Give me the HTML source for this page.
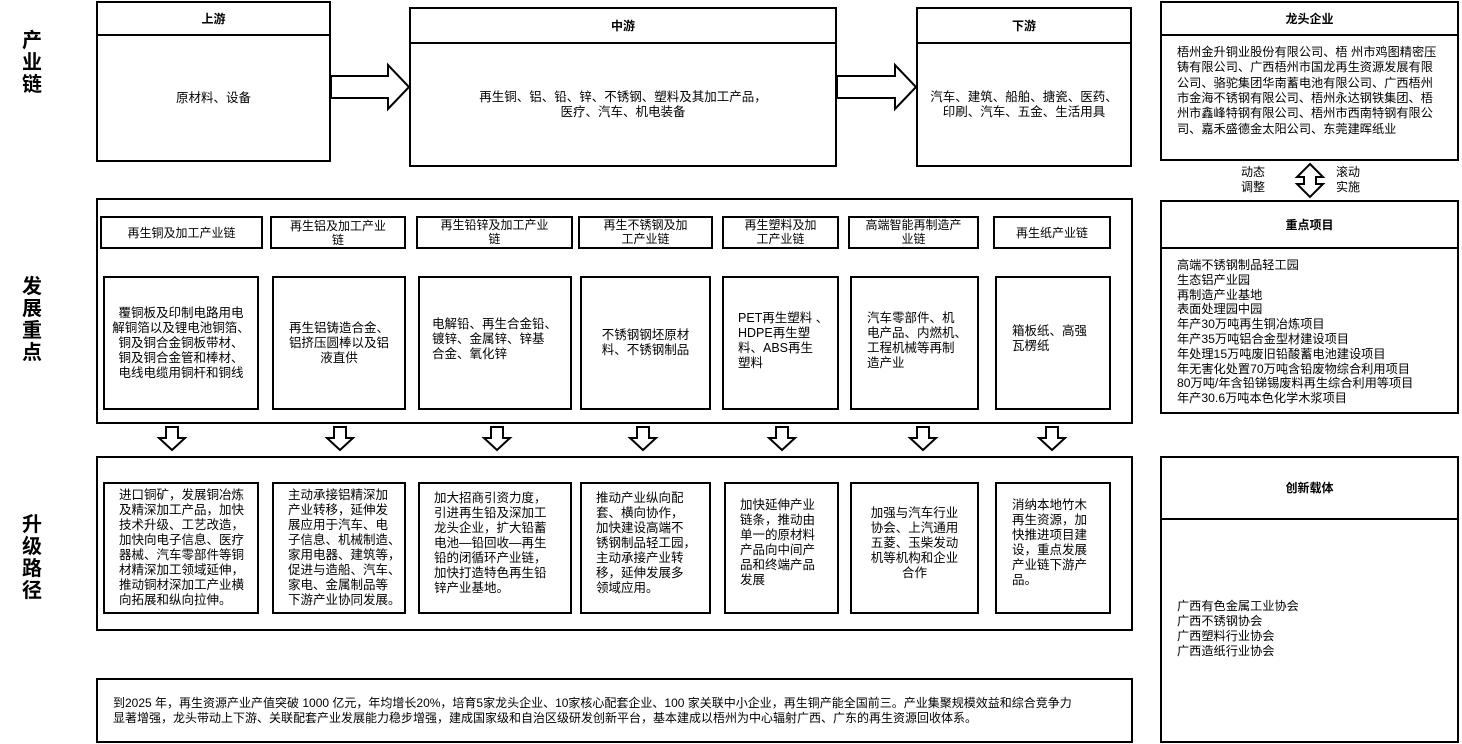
<!DOCTYPE html>
<html><head><meta charset="utf-8">
<style>
*{margin:0;padding:0;box-sizing:border-box}
body{width:1462px;height:744px;background:#fff;position:relative;overflow:hidden;font-family:"Liberation Sans","Noto Sans CJK SC",sans-serif;color:#000}
.b{position:absolute;border:2px solid #000;background:#fff}
.c{position:absolute;display:flex;align-items:center;justify-content:center;text-align:center;white-space:nowrap}
.t{font-size:12.5px;line-height:15px}
.h{font-size:12px;font-weight:bold}
.l{text-align:left}
.lab{position:absolute;left:20px;width:24px;font-size:20px;font-weight:bold;line-height:22px;text-align:center}
.hl{position:absolute;height:2px;background:#000}
</style></head><body>

<div class="lab" style="top:30px">产<br>业<br>链</div>
<div class="lab" style="top:276px">发<br>展<br>重<br>点</div>
<div class="lab" style="top:514px">升<br>级<br>路<br>径</div>

<!-- 产业链 -->
<div class="b" style="left:96px;top:1px;width:235px;height:161px"></div>
<div class="hl" style="left:96px;top:34px;width:235px"></div>
<div class="c h" style="left:96px;top:1px;width:235px;height:34px">上游</div>
<div class="c t" style="left:96px;top:35px;width:235px;height:127px">原材料、设备</div>

<div class="b" style="left:409px;top:7px;width:428px;height:160px"></div>
<div class="hl" style="left:409px;top:42px;width:428px"></div>
<div class="c h" style="left:409px;top:7px;width:428px;height:36px">中游</div>
<div class="c t" style="left:409px;top:43px;width:428px;height:124px">再生铜、铝、铅、锌、不锈钢、塑料及其加工产品，<br>医疗、汽车、机电装备</div>

<div class="b" style="left:916px;top:7px;width:216px;height:160px"></div>
<div class="hl" style="left:916px;top:42px;width:216px"></div>
<div class="c h" style="left:916px;top:7px;width:216px;height:36px">下游</div>
<div class="c t" style="left:916px;top:43px;width:216px;height:124px">汽车、建筑、船舶、搪瓷、医药、<br>印刷、汽车、五金、生活用具</div>

<svg style="position:absolute;left:0;top:0" width="1462" height="744">
<g fill="#fff" stroke="#000" stroke-width="2">
<polygon points="331,76 388,76 388,65 409,87 388,109 388,98 331,98"/>
<polygon points="837,76 895,76 895,65 916,87 895,109 895,98 837,98"/>
<polygon points="1310,164 1323,177 1316,177 1316,184 1323,184 1310,197 1297,184 1304,184 1304,177 1297,177"/>
<g id="da">
<polygon points="166,427 178,427 178,438 185,438 172,450 159,438 166,438"/>
</g>
<polygon points="334,427 346,427 346,438 353,438 340,450 327,438 334,438"/>
<polygon points="491,427 503,427 503,438 510,438 497,450 484,438 491,438"/>
<polygon points="637,427 649,427 649,438 656,438 643,450 630,438 637,438"/>
<polygon points="776,427 788,427 788,438 795,438 782,450 769,438 776,438"/>
<polygon points="917,427 929,427 929,438 936,438 923,450 910,438 917,438"/>
<polygon points="1046,427 1058,427 1058,438 1065,438 1052,450 1039,438 1046,438"/>
</g>
</svg>

<!-- 右侧 -->
<div class="b" style="left:1160px;top:1px;width:299px;height:160px"></div>
<div class="hl" style="left:1160px;top:34px;width:299px"></div>
<div class="c h" style="left:1160px;top:1px;width:299px;height:34px">龙头企业</div>
<div class="c t l" style="left:1177px;top:43px;width:280px;height:96px;justify-content:flex-start;font-size:12.2px;line-height:15.4px">梧州金升铜业股份有限公司、梧 州市鸡图精密压<br>铸有限公司、广西梧州市国龙再生资源发展有限<br>公司、骆驼集团华南蓄电池有限公司、广西梧州<br>市金海不锈钢有限公司、梧州永达钢铁集团、梧<br>州市鑫峰特钢有限公司、梧州市西南特钢有限公<br>司、嘉禾盛德金太阳公司、东莞建晖纸业</div>

<div class="c t" style="left:1240px;top:165px;width:26px;height:30px;font-size:12px;line-height:15px">动态<br>调整</div>
<div class="c t" style="left:1335px;top:165px;width:26px;height:30px;font-size:12px;line-height:15px">滚动<br>实施</div>

<div class="b" style="left:1160px;top:200px;width:299px;height:214px"></div>
<div class="hl" style="left:1160px;top:247px;width:299px"></div>
<div class="c h" style="left:1160px;top:200px;width:299px;height:48px">重点项目</div>
<div class="c t l" style="left:1177px;top:257px;width:280px;height:150px;justify-content:flex-start;font-size:12.2px;line-height:14.8px">高端不锈钢制品轻工园<br>生态铝产业园<br>再制造产业基地<br>表面处理园中园<br>年产30万吨再生铜冶炼项目<br>年产35万吨铝合金型材建设项目<br>年处理15万吨废旧铅酸蓄电池建设项目<br>年无害化处置70万吨含铅废物综合利用项目<br>80万吨/年含铅锑锡废料再生综合利用等项目<br>年产30.6万吨本色化学木浆项目</div>

<div class="b" style="left:1160px;top:456px;width:299px;height:287px"></div>
<div class="hl" style="left:1160px;top:518px;width:299px"></div>
<div class="c h" style="left:1160px;top:456px;width:299px;height:63px">创新载体</div>
<div class="c t l" style="left:1177px;top:599px;width:200px;height:60px;justify-content:flex-start;font-size:12.2px;line-height:14.8px">广西有色金属工业协会<br>广西不锈钢协会<br>广西塑料行业协会<br>广西造纸行业协会</div>

<!-- 发展重点 -->
<div class="b" style="left:96px;top:198px;width:1037px;height:226px"></div>
<div class="b c t" style="left:100px;top:216px;width:163px;height:33px;font-size:12px;line-height:14px">再生铜及加工产业链</div>
<div class="b c t" style="left:270px;top:216px;width:136px;height:33px;font-size:12px;line-height:14px;align-items:flex-start;padding-top:1px">再生铝及加工产业<br>链</div>
<div class="b c t" style="left:416px;top:216px;width:157px;height:33px;font-size:12px;line-height:14px;align-items:flex-start;padding-top:0">再生铅锌及加工产业<br>链</div>
<div class="b c t" style="left:578px;top:216px;width:135px;height:33px;font-size:12px;line-height:14px;align-items:flex-start;padding-top:0">再生不锈钢及加<br>工产业链</div>
<div class="b c t" style="left:722px;top:216px;width:117px;height:33px;font-size:12px;line-height:14px;align-items:flex-start;padding-top:0">再生塑料及加<br>工产业链</div>
<div class="b c t" style="left:848px;top:216px;width:131px;height:33px;font-size:12px;line-height:14px;align-items:flex-start;padding-top:0">高端智能再制造产<br>业链</div>
<div class="b c t" style="left:993px;top:216px;width:118px;height:33px;font-size:12px;line-height:14px">再生纸产业链</div>

<div class="b c t" style="left:103px;top:276px;width:156px;height:134px">覆铜板及印制电路用电<br>解铜箔以及锂电池铜箔、<br>铜及铜合金铜板带材、<br>铜及铜合金管和棒材、<br>电线电缆用铜杆和铜线</div>
<div class="b c t" style="left:272px;top:276px;width:134px;height:134px">再生铝铸造合金、<br>铝挤压圆棒以及铝<br>液直供</div>
<div class="b c t l" style="left:418px;top:276px;width:154px;height:134px;justify-content:flex-start;padding-left:12px;padding-bottom:8px">电解铅、再生合金铅、<br>镀锌、金属锌、锌基<br>合金、氧化锌</div>
<div class="b c t" style="left:580px;top:276px;width:131px;height:134px">不锈钢钢坯原材<br>料、不锈钢制品</div>
<div class="b c t l" style="left:722px;top:276px;width:117px;height:134px;justify-content:flex-start;padding-left:14px;padding-bottom:4px">PET再生塑料 、<br>HDPE再生塑<br>料、ABS再生<br>塑料</div>
<div class="b c t l" style="left:850px;top:276px;width:129px;height:134px;justify-content:flex-start;padding-left:15px;padding-bottom:4px">汽车零部件、机<br>电产品、内燃机、<br>工程机械等再制<br>造产业</div>
<div class="b c t l" style="left:995px;top:276px;width:116px;height:134px;justify-content:flex-start;padding-left:15px;padding-bottom:8px">箱板纸、高强<br>瓦楞纸</div>

<!-- 升级路径 -->
<div class="b" style="left:96px;top:456px;width:1037px;height:175px"></div>
<div class="b c t l" style="left:103px;top:482px;width:156px;height:132px;justify-content:flex-start;padding-left:14px">进口铜矿，发展铜冶炼<br>及精深加工产品，加快<br>技术升级、工艺改造，<br>加快向电子信息、医疗<br>器械、汽车零部件等铜<br>材精深加工领域延伸，<br>推动铜材深加工产业横<br>向拓展和纵向拉伸。</div>
<div class="b c t l" style="left:272px;top:482px;width:134px;height:132px;justify-content:flex-start;padding-left:14px">主动承接铝精深加<br>产业转移，延伸发<br>展应用于汽车、电<br>子信息、机械制造、<br>家用电器、建筑等，<br>促进与造船、汽车、<br>家电、金属制品等<br>下游产业协同发展。</div>
<div class="b c t l" style="left:418px;top:482px;width:154px;height:132px;justify-content:flex-start;padding-left:14px;padding-bottom:10px">加大招商引资力度，<br>引进再生铅及深加工<br>龙头企业，扩大铅蓄<br>电池—铅回收—再生<br>铅的闭循环产业链，<br>加快打造特色再生铅<br>锌产业基地。</div>
<div class="b c t l" style="left:580px;top:482px;width:131px;height:132px;justify-content:flex-start;padding-left:14px;padding-bottom:10px">推动产业纵向配<br>套、横向协作，<br>加快建设高端不<br>锈钢制品轻工园，<br>主动承接产业转<br>移，延伸发展多<br>领域应用。</div>
<div class="b c t l" style="left:724px;top:482px;width:115px;height:132px;justify-content:flex-start;padding-left:14px;padding-bottom:10px">加快延伸产业<br>链条，推动由<br>单一的原材料<br>产品向中间产<br>品和终端产品<br>发展</div>
<div class="b c t" style="left:850px;top:482px;width:129px;height:132px;padding-bottom:10px">加强与汽车行业<br>协会、上汽通用<br>五菱、玉柴发动<br>机等机构和企业<br>合作</div>
<div class="b c t l" style="left:995px;top:482px;width:116px;height:132px;justify-content:flex-start;padding-left:15px;padding-bottom:10px">消纳本地竹木<br>再生资源，加<br>快推进项目建<br>设，重点发展<br>产业链下游产<br>品。</div>

<!-- 目标 -->
<div class="b" style="left:96px;top:678px;width:1037px;height:65px"></div>
<div class="c t l" style="left:113px;top:680px;width:1015px;height:61px;justify-content:flex-start;font-size:12px;line-height:15px">到2025 年，再生资源产业产值突破 1000 亿元，年均增长20%，培育5家龙头企业、10家核心配套企业、100 家关联中小企业，再生铜产能全国前三。产业集聚规模效益和综合竞争力<br>显著增强，龙头带动上下游、关联配套产业发展能力稳步增强，建成国家级和自治区级研发创新平台，基本建成以梧州为中心辐射广西、广东的再生资源回收体系。</div>

</body></html>
